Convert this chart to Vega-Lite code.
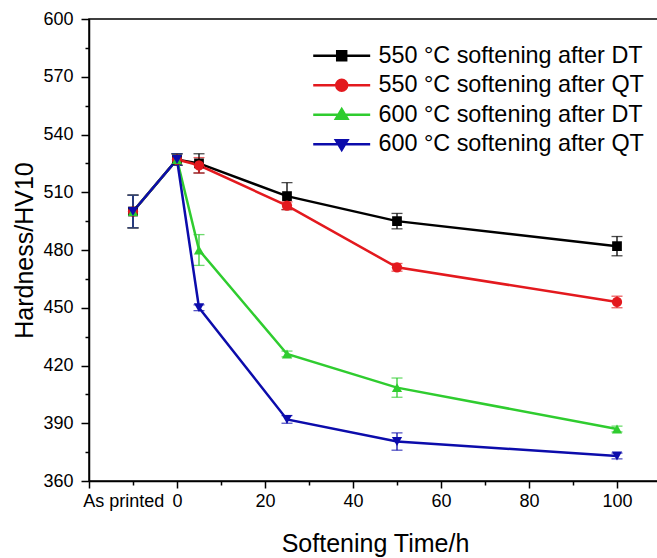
{
  "$schema": "https://vega.github.io/schema/vega-lite/v6.json",
  "width": 572,
  "height": 462,
  "autosize": "none",
  "padding": {"left": 89, "top": 19, "right": 0, "bottom": 77},
  "background": "white",
  "config": {
    "font": "Liberation Sans",
    "view": {"stroke": "#000", "strokeWidth": 1.5},
    "axis": {"grid": false, "domainColor": "#000", "domainWidth": 1.5, "tickColor": "#000", "tickWidth": 1.5, "labelColor": "#000", "labelFont": "Liberation Sans", "labelFontSize": 18, "titleFont": "Liberation Sans", "titleFontSize": 25, "titleFontWeight": "normal", "titleColor": "#000"}
  },
  "data": {"values": [
    {"s": "550 °C softening after DT", "t": -10, "h": 500, "err": 8.5},
    {"s": "550 °C softening after DT", "t": 0, "h": 527, "err": 3},
    {"s": "550 °C softening after DT", "t": 5, "h": 525, "err": 5},
    {"s": "550 °C softening after DT", "t": 25, "h": 508, "err": 7},
    {"s": "550 °C softening after DT", "t": 50, "h": 495, "err": 4},
    {"s": "550 °C softening after DT", "t": 100, "h": 482, "err": 5},
    {"s": "550 °C softening after QT", "t": -10, "h": 500, "err": 8.5},
    {"s": "550 °C softening after QT", "t": 0, "h": 527, "err": 3},
    {"s": "550 °C softening after QT", "t": 5, "h": 524, "err": 4},
    {"s": "550 °C softening after QT", "t": 25, "h": 503, "err": 2},
    {"s": "550 °C softening after QT", "t": 50, "h": 471, "err": 2},
    {"s": "550 °C softening after QT", "t": 100, "h": 453, "err": 3},
    {"s": "600 °C softening after DT", "t": -10, "h": 500, "err": 8.5},
    {"s": "600 °C softening after DT", "t": 0, "h": 527, "err": 3},
    {"s": "600 °C softening after DT", "t": 5, "h": 480, "err": 8},
    {"s": "600 °C softening after DT", "t": 25, "h": 426, "err": 1.5},
    {"s": "600 °C softening after DT", "t": 50, "h": 408.5, "err": 5},
    {"s": "600 °C softening after DT", "t": 100, "h": 387, "err": 1.5},
    {"s": "600 °C softening after QT", "t": -10, "h": 500, "err": 8.5},
    {"s": "600 °C softening after QT", "t": 0, "h": 527, "err": 3},
    {"s": "600 °C softening after QT", "t": 5, "h": 450, "err": 1.5},
    {"s": "600 °C softening after QT", "t": 25, "h": 392, "err": 2},
    {"s": "600 °C softening after QT", "t": 50, "h": 380.5, "err": 4.5},
    {"s": "600 °C softening after QT", "t": 100, "h": 373, "err": 1.5}
  ]},
  "resolve": {"axis": {"x": "independent", "y": "independent"}},
  "layer": [
    {
      "mark": {"type": "errorbar", "ticks": {"size": 11, "thickness": 1.3}, "rule": {"strokeWidth": 1.3}},
      "encoding": {
        "x": {"field": "t", "type": "quantitative", "scale": {"domain": [-20, 110], "nice": false, "zero": false},
          "axis": {"values": [-20, 0, 20, 40, 60, 80, 100], "orient": "bottom", "tickSize": 7, "labelPadding": 4, "labelFlush": false, "labelOverlap": false, "labelExpr": "datum.value < 0 ? '' : datum.label", "title": "Softening Time/h", "titleX": 286, "titleY": 70, "titleBaseline": "alphabetic", "titleAlign": "center"}},
        "y": {"field": "h", "type": "quantitative", "scale": {"domain": [360, 600], "nice": false, "zero": false},
          "axis": {"values": [360, 390, 420, 450, 480, 510, 540, 570, 600], "orient": "left", "tickSize": 8, "labelPadding": 8, "labelFlush": false, "labelOverlap": false, "title": "Hardness/HV10", "titleAngle": -90, "titleX": -57, "titleY": 231, "titleAlign": "center", "titleBaseline": "alphabetic"}},
        "yError": {"field": "err"},
        "color": {"field": "s", "type": "nominal",
          "scale": {"domain": ["550 °C softening after DT", "550 °C softening after QT", "600 °C softening after DT", "600 °C softening after QT"], "range": ["#000000", "#e3191e", "#2fcc2f", "#0c0cab"]},
          "legend": {"title": null, "orient": "none", "legendX": 241, "legendY": 25, "padding": 0, "labelFont": "Liberation Sans", "labelFontSize": 23.4, "labelColor": "#000", "labelLimit": 500, "labelOffset": 25, "rowPadding": 4.5, "symbolSize": 256, "symbolStrokeWidth": 2.5,
            "encode": {"symbols": {"update": {
              "shape": {"signal": "datum.value == '550 °C softening after DT' ? 'M-3.56,0H3.56M-0.56,-0.56H0.56V0.56H-0.56Z' : datum.value == '550 °C softening after QT' ? 'M-3.56,0H3.56M0.68,0A0.68,0.68 0 1,1 -0.68,0A0.68,0.68 0 1,1 0.68,0Z' : datum.value == '600 °C softening after DT' ? 'M-3.56,0H3.56M0,-0.7L0.72,0.5H-0.72Z' : 'M-3.56,0H3.56M0,0.7L0.72,-0.5H-0.72Z'"},
              "fill": {"scale": "color", "field": "value"},
              "stroke": {"scale": "color", "field": "value"},
              "strokeWidth": {"value": 2.5},
              "opacity": {"value": 1}
            }}}
          }}
      }
    },
    {
      "mark": {"type": "line", "strokeWidth": 2.5},
      "encoding": {
        "x": {"field": "t", "type": "quantitative", "axis": null},
        "y": {"field": "h", "type": "quantitative", "axis": null},
        "color": {"field": "s", "type": "nominal"},
        "order": {"field": "t", "type": "quantitative"}
      }
    },
    {
      "transform": [{"filter": "datum.s == '550 °C softening after DT'"}],
      "mark": {"type": "point", "filled": true, "size": 95, "opacity": 1, "shape": "square"},
      "encoding": {
        "x": {"field": "t", "type": "quantitative", "axis": null},
        "y": {"field": "h", "type": "quantitative", "axis": null},
        "color": {"field": "s", "type": "nominal"}
      }
    },
    {
      "transform": [{"filter": "datum.s == '550 °C softening after QT'"}],
      "mark": {"type": "point", "filled": true, "size": 105, "opacity": 1, "shape": "circle"},
      "encoding": {
        "x": {"field": "t", "type": "quantitative", "axis": null},
        "y": {"field": "h", "type": "quantitative", "axis": null},
        "color": {"field": "s", "type": "nominal"}
      }
    },
    {
      "transform": [{"filter": "datum.s == '600 °C softening after DT'"}],
      "mark": {"type": "point", "filled": true, "size": 105, "opacity": 1, "shape": "triangle-up"},
      "encoding": {
        "x": {"field": "t", "type": "quantitative", "axis": null},
        "y": {"field": "h", "type": "quantitative", "axis": null},
        "color": {"field": "s", "type": "nominal"}
      }
    },
    {
      "transform": [{"filter": "datum.s == '600 °C softening after QT'"}],
      "mark": {"type": "point", "filled": true, "size": 105, "opacity": 1, "shape": "triangle-down"},
      "encoding": {
        "x": {"field": "t", "type": "quantitative", "axis": null},
        "y": {"field": "h", "type": "quantitative", "axis": null},
        "color": {"field": "s", "type": "nominal"}
      }
    },
    {
      "mark": {"type": "point", "opacity": 0},
      "encoding": {
        "x": {"field": "t", "type": "quantitative",
          "axis": {"values": [-10, 10, 30, 50, 70, 90], "orient": "bottom", "tickSize": 4, "labels": false, "domain": false, "title": null}},
        "y": {"field": "h", "type": "quantitative",
          "axis": {"values": [375, 405, 435, 465, 495, 525, 555, 585], "orient": "left", "tickSize": 4, "labels": false, "domain": false, "title": null}}
      }
    },
    {
      "mark": {"type": "point", "opacity": 0},
      "encoding": {
        "x": {"field": "t", "type": "quantitative",
          "axis": {"values": [-12.2], "orient": "bottom", "ticks": false, "tickSize": 0, "labelPadding": 11, "domain": false, "labelFlush": false, "labelOverlap": false, "labelExpr": "'As printed'", "title": null}},
        "y": {"field": "h", "type": "quantitative", "axis": null}
      }
    }
  ]
}
